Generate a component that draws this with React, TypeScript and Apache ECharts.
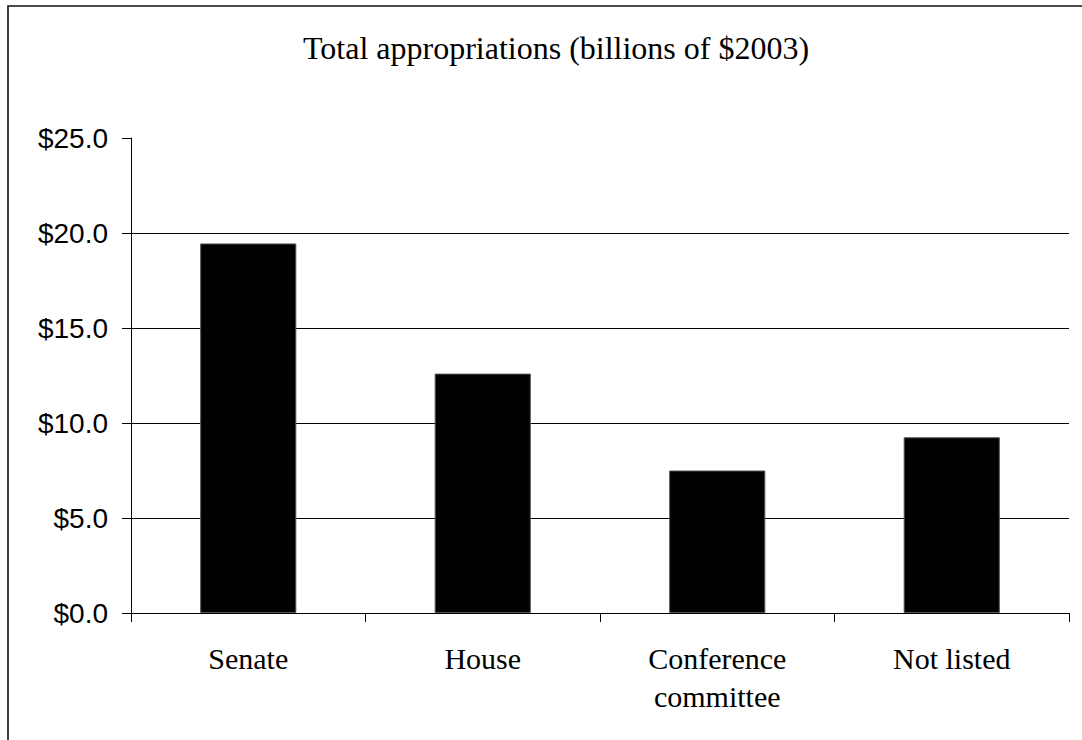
import React, { useEffect, useRef } from "react";
import * as echarts from "echarts";

const titleText = "Total appropriations (billions of $2003)";
const categories = ["Senate", "House", "Conference\ncommittee", "Not listed"];
const values = [19.45, 12.6, 7.5, 9.25];
const yMin = 0;
const yMax = 25;
const yInterval = 5;

export default function App() {
  const ref = useRef<HTMLDivElement>(null);
  useEffect(() => {
    if (!ref.current) return;
    const chart = echarts.init(ref.current, null, { renderer: "svg" });
    chart.setOption({
      animation: false,
      backgroundColor: "#ffffff",
      title: {
        text: titleText,
        left: 298,
        top: 27,
        textStyle: {
          fontFamily: "Liberation Serif",
          fontSize: 32,
          fontWeight: "normal",
          color: "#000",
        },
      },
      graphic: [
        {
          type: "rect",
          shape: { x: 8, y: 6, width: 1100, height: 760 },
          style: { fill: "none", stroke: "#111", lineWidth: 1.6 },
          silent: true,
        },
      ],
      grid: { left: 131, right: 13, top: 138, bottom: 127, containLabel: false },
      xAxis: {
        type: "category",
        data: categories,
        axisLine: { show: true, lineStyle: { color: "#000", width: 1 } },
        axisTick: { show: true, length: 9, alignWithLabel: false, lineStyle: { color: "#000" } },
        axisLabel: {
          margin: 26,
          color: "#000",
          fontFamily: "Liberation Serif",
          fontSize: 30,
          lineHeight: 38,
        },
        splitLine: { show: false },
      },
      yAxis: {
        type: "value",
        min: yMin,
        max: yMax,
        interval: yInterval,
        axisLine: { show: true, lineStyle: { color: "#000", width: 1 } },
        axisTick: { show: true, length: 9, lineStyle: { color: "#000" } },
        axisLabel: {
          margin: 23,
          color: "#000",
          fontFamily: "Liberation Sans",
          fontSize: 28,
          formatter: (v: number) => "$" + v.toFixed(1),
        },
        splitLine: {
          show: true,
          lineStyle: {
            color: ["#000", "#000", "#000", "#000", "#000", "rgba(0,0,0,0)"],
            width: 1,
          },
        },
      },
      series: [
        {
          type: "bar",
          data: values,
          barWidth: "41%",
          itemStyle: { color: "#000", borderColor: "#555", borderWidth: 1 },
        },
      ],
    });
    return () => chart.dispose();
  }, []);
  return (
    <div
      ref={ref}
      style={{ position: "fixed", left: 0, top: 0, width: 1082, height: 740 }}
    />
  );
}
